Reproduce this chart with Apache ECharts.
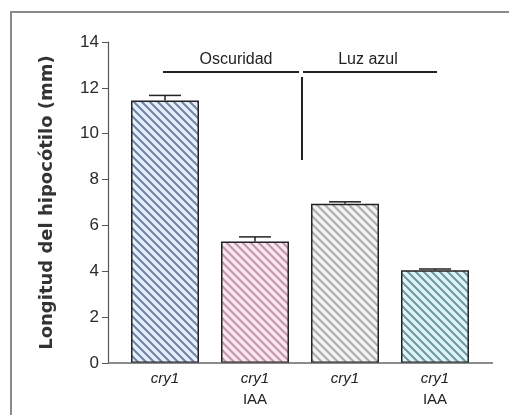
<!DOCTYPE html>
<html>
<head>
<meta charset="utf-8">
<style>
  html, body { margin: 0; padding: 0; background: #fff; }
  #chart { width: 509px; height: 415px; }
</style>
<script src="https://cdn.jsdelivr.net/npm/echarts@6/dist/echarts.min.js"></script>
</head>
<body>
<div id="chart"></div>
<script>
// datos
var categorias = ['cry1', 'cry1\nIAA', 'cry1', 'cry1\nIAA'];
var longitud = [11.45, 5.3, 6.95, 4.05];
var errores = [0.22, 0.2, 0.08, 0.05];
var yTicks = [0, 2, 4, 6, 8, 10, 12, 14];

// colores del rayado: fondo y líneas
var fondos = ['#e5edf8', '#f9e6ef', '#f3f3f3', '#e0f3f6'];
var lineas = ['#7084a8', '#c095aa', '#ababab', '#6c99a3'];

// patrón de rayas diagonales
function rayado(fondo, linea) {
  var s = 8;
  var c = document.createElement('canvas');
  c.width = s; c.height = s;
  var ctx = c.getContext('2d');
  ctx.fillStyle = fondo;
  ctx.fillRect(0, 0, s, s);
  ctx.strokeStyle = linea;
  ctx.lineWidth = 2;
  ctx.beginPath();
  ctx.moveTo(-1, -1); ctx.lineTo(s + 1, s + 1);
  ctx.moveTo(-1, s - 1); ctx.lineTo(1, s + 1);
  ctx.moveTo(s - 1, -1); ctx.lineTo(s + 1, 1);
  ctx.stroke();
  return { image: c, repeat: 'repeat' };
}

var chart = echarts.init(document.getElementById('chart'));

var option = {
  backgroundColor: '#fff',
  animation: false,
  textStyle: { fontFamily: 'Liberation Sans, Arial, sans-serif' },
  grid: { left: 120, right: 29, top: 42, bottom: 52 },
  xAxis: {
    type: 'category',
    data: categorias,
    axisLine: { show: false },
    axisTick: { show: false },
    axisLabel: {
      margin: 6,
      lineHeight: 20,
      formatter: function (v) {
        var p = v.split('\n');
        return '{i|' + p[0] + '}' + (p[1] ? '\n{n|' + p[1] + '}' : '');
      },
      rich: {
        i: { fontStyle: 'italic', fontSize: 15, color: '#222', lineHeight: 20 },
        n: { fontSize: 15, color: '#222', lineHeight: 22 }
      }
    }
  },
  yAxis: {
    type: 'value',
    min: 0,
    max: 14,
    interval: 2,
    offset: 12,
    name: 'Longitud del hipocótilo (mm)',
    nameLocation: 'middle',
    nameGap: 52,
    nameTextStyle: { fontFamily: 'DejaVu Sans', fontWeight: 'bold', fontSize: 18, color: '#333' },
    axisLine: { show: true, lineStyle: { color: '#555', width: 1.2 } },
    axisTick: { show: true, length: 6, lineStyle: { color: '#555' } },
    splitLine: { show: false },
    axisLabel: {
      fontSize: 17, color: '#2a2a2a', margin: 9,
      formatter: function (v) { return yTicks.indexOf(v) >= 0 ? String(v) : ''; }
    }
  },
  series: [
    {
      type: 'bar',
      barWidth: 68,
      data: longitud.map(function (v, i) {
        return {
          value: v,
          itemStyle: { color: rayado(fondos[i], lineas[i]) }
        };
      }),
      itemStyle: { borderColor: '#222', borderWidth: 1.5 }
    },
    {
      type: 'custom',
      z: 5,
      data: longitud.map(function (v, i) { return [i, v, v + errores[i]]; }),
      renderItem: function (params, api) {
        var base = api.coord([api.value(0), api.value(1)]);
        var top = api.coord([api.value(0), api.value(2)]);
        var half = 16;
        var st = { stroke: '#222', lineWidth: 1.5 };
        return {
          type: 'group',
          children: [
            { type: 'line', shape: { x1: base[0], y1: base[1], x2: top[0], y2: top[1] }, style: st },
            { type: 'line', shape: { x1: top[0] - half, y1: top[1], x2: top[0] + half, y2: top[1] }, style: st }
          ]
        };
      }
    }
  ],
  graphic: [
    // marco
    { type: 'line', shape: { x1: 10, y1: 12, x2: 509, y2: 12 }, style: { stroke: '#8a8a8a', lineWidth: 2 } },
    { type: 'line', shape: { x1: 11, y1: 12, x2: 11, y2: 415 }, style: { stroke: '#8a8a8a', lineWidth: 2 } },
    // eje x
    { type: 'line', z: 10, shape: { x1: 108, y1: 363, x2: 493, y2: 363 }, style: { stroke: '#666', lineWidth: 1.5 } },
    // anotaciones
    { type: 'line', shape: { x1: 163, y1: 72, x2: 299, y2: 72 }, style: { stroke: '#222', lineWidth: 2 } },
    { type: 'line', shape: { x1: 303, y1: 72, x2: 437, y2: 72 }, style: { stroke: '#222', lineWidth: 2 } },
    { type: 'line', shape: { x1: 302, y1: 77, x2: 302, y2: 160 }, style: { stroke: '#222', lineWidth: 2 } },
    { type: 'text', x: 236, y: 60, style: { text: 'Oscuridad', fontSize: 16, fill: '#222', align: 'center', verticalAlign: 'middle', fontFamily: 'Liberation Sans' } },
    { type: 'text', x: 368, y: 60, style: { text: 'Luz azul', fontSize: 16, fill: '#222', align: 'center', verticalAlign: 'middle', fontFamily: 'Liberation Sans' } }
  ]
};

chart.setOption(option);
window.onresize = function () { chart.resize(); };
</script>
</body>
</html>
